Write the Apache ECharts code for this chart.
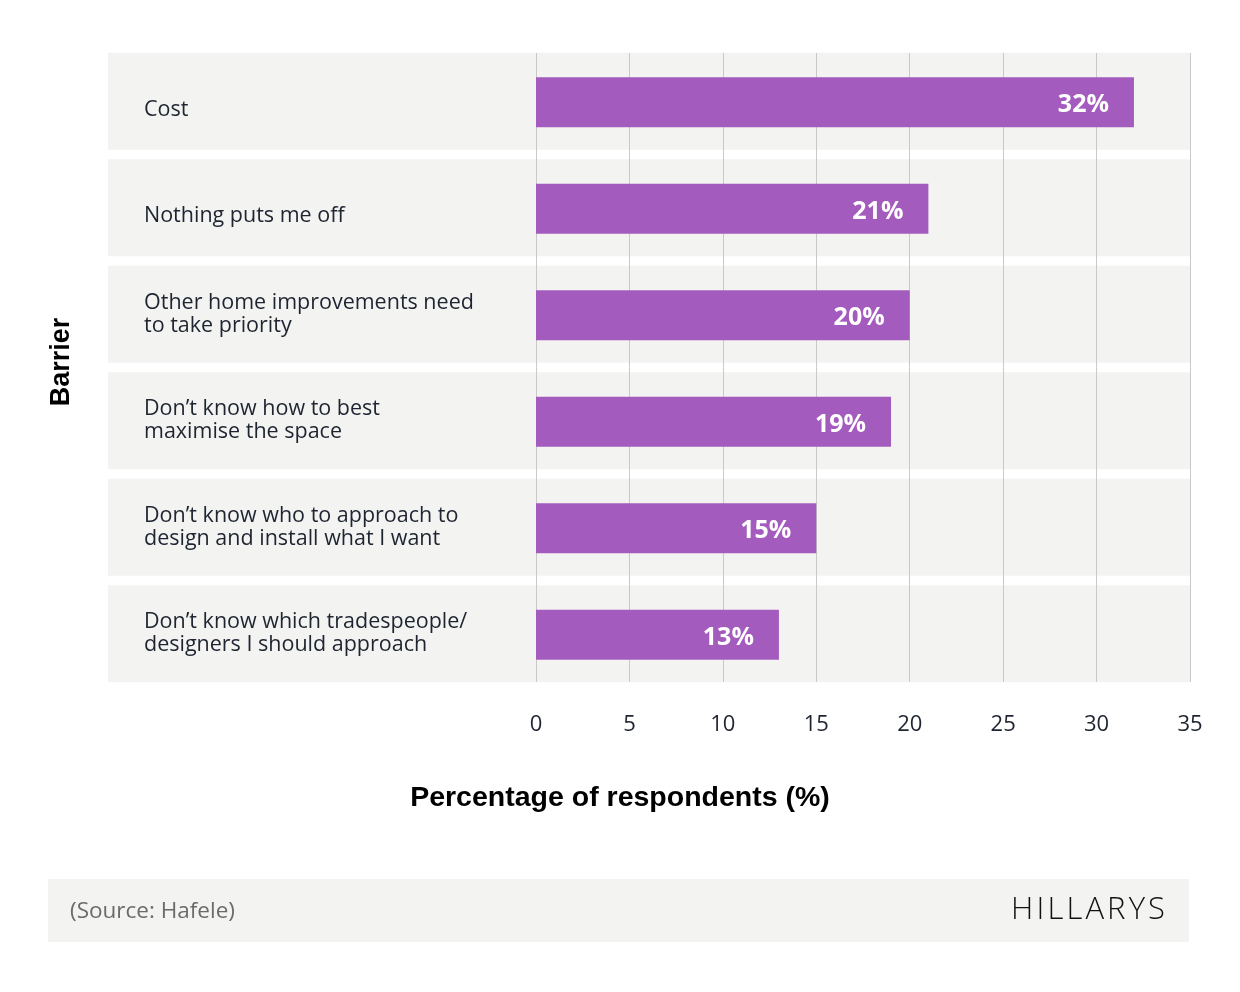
<!DOCTYPE html>
<html>
<head>
<meta charset="utf-8">
<title>Barriers</title>
<script src="https://cdn.jsdelivr.net/npm/echarts@6/dist/echarts.min.js"></script>
<style>
  html, body { margin: 0; padding: 0; background: #fff; }
  #chart { width: 1240px; height: 992px; }
</style>
</head>
<body>
<div id="chart"></div>
<script>
// Data
const categories = [
  'Cost',
  'Nothing puts me off',
  'Other home improvements need\nto take priority',
  'Don\u2019t know how to best\nmaximise the space',
  'Don\u2019t know who to approach to\ndesign and install what I want',
  'Don\u2019t know which tradespeople/\ndesigners I should approach',
];
const values = [32, 21, 20, 19, 15, 13];
const xTicks = [0, 5, 10, 15, 20, 25, 30, 35];

const colors = {
  bar: '#A45BBE',
  band: '#F3F3F2',
  grid: '#C9C9C9',
  ink: '#1E2430',
  muted: '#6B6B6B',
};
const font = '"Open Sans", Lato, sans-serif';
const boldFont = '"Liberation Sans", Arial, sans-serif';

const chart = echarts.init(document.getElementById('chart'), null, { renderer: 'canvas' });

chart.setOption({
  animation: false,
  backgroundColor: '#fff',
  grid: [
    { left: 108, right: 50, top: 48, bottom: 305 },   // row bands
    { left: 536, right: 50, top: 49, bottom: 304 },   // bars
    { left: 536, right: 50, top: 53, bottom: 310 },   // grid lines + ticks
  ],
  xAxis: [
    { gridIndex: 0, type: 'value', min: 0, max: 1, show: false },
    { gridIndex: 1, type: 'value', min: 0, max: 35, show: false },
    {
      gridIndex: 2, type: 'value', min: 0, max: 35, interval: 5, z: 3,
      axisLine: { show: false }, axisTick: { show: false },
      axisLabel: {
        margin: 32, fontSize: 22, color: colors.ink, fontFamily: font,
        formatter: (v) => (xTicks.includes(v) ? String(v) : ''),
      },
      splitLine: { show: true, lineStyle: { color: colors.grid, width: 1 } },
    },
  ],
  yAxis: [
    {
      gridIndex: 0, type: 'category', data: categories, inverse: true,
      axisLine: { show: false }, axisTick: { show: false },
      axisLabel: {
        inside: true, margin: 36, align: 'left', fontSize: 21.5, lineHeight: 23,
        color: colors.ink, fontFamily: font,
        // single-line labels sit a little lower than the row centre in the original
        formatter: (v) => (v.includes('\n') ? v : '{low|' + v + '}'),
        rich: {
          low: { fontSize: 21.5, color: colors.ink, fontFamily: font, padding: [17, 0, 0, 0] },
        },
      },
      z: 4,
    },
    { gridIndex: 1, type: 'category', data: categories, inverse: true, show: false },
    { gridIndex: 2, type: 'category', data: categories, inverse: true, show: false },
  ],
  series: [
    {
      type: 'bar', xAxisIndex: 0, yAxisIndex: 0, silent: true, z: 1,
      data: values.map(() => 1), barWidth: 97,
      itemStyle: { color: colors.band },
    },
    {
      type: 'bar', xAxisIndex: 1, yAxisIndex: 1, z: 5,
      data: values, barWidth: 50,
      itemStyle: { color: colors.bar },
      label: {
        show: true, position: 'insideRight', distance: 25, offset: [0, 3],
        formatter: '{c}%', color: '#fff', fontSize: 25, fontWeight: 'bold',
        fontFamily: font,
      },
    },
  ],
  title: {
    text: 'Percentage of respondents (%)',
    left: 'center', top: 779,
    textStyle: { fontSize: 28.5, fontWeight: 'bold', color: '#000', fontFamily: boldFont },
  },
  graphic: [
    {
      type: 'text', z: 10,
      x: 62, y: 362,
      rotation: Math.PI / 2,
      style: {
        text: 'Barrier', fill: '#000', fontSize: 27, fontWeight: 'bold',
        fontFamily: boldFont,
        align: 'center', verticalAlign: 'middle',
      },
    },
    {
      type: 'rect', left: 48, top: 879, z: 0,
      shape: { width: 1141, height: 63 },
      style: { fill: colors.band },
    },
    {
      type: 'text', left: 70, top: 900, z: 1,
      style: { text: '(Source: Hafele)', fill: colors.muted, fontSize: 22.5, fontFamily: font },
    },
    {
      type: 'text', right: 75, top: 895, z: 1,
      style: {
        text: 'HILLARYS'.split('').join('\u200A'), fill: '#111', fontSize: 31, fontWeight: 300,
        fontFamily: font,
      },
    },
  ],
});
</script>
</body>
</html>
